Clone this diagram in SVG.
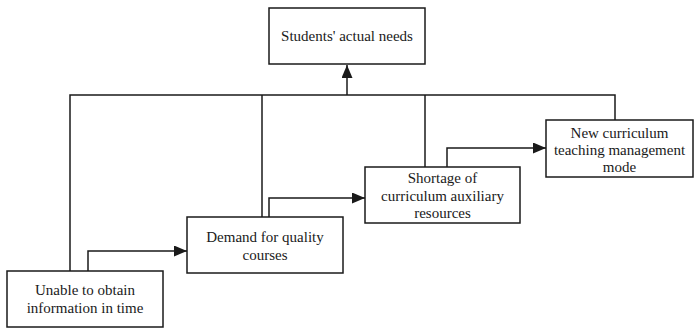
<svg xmlns="http://www.w3.org/2000/svg" width="695" height="328" viewBox="0 0 695 328">
  <style>
    .box { fill: #ffffff; stroke: #1a1a1a; stroke-width: 1.5; }
    .lbl { font-family: 'Liberation Serif', 'Times New Roman', Times, serif; font-size: 15px; fill: #1a1a1a; text-anchor: middle; }
    .wire { fill: none; stroke: #1a1a1a; stroke-width: 1.5; }
  </style>
  <defs>
    <marker id="arrow" viewBox="0 0 13 11" refX="13" refY="5.5" markerWidth="13" markerHeight="11" markerUnits="userSpaceOnUse" orient="auto">
      <path d="M0,0 L13,5.5 L0,11 z" fill="#1a1a1a"/>
    </marker>
  </defs>
  <rect width="695" height="328" fill="#ffffff"/>

  <g id="connectors">
    <!-- bus feeding the top box -->
    <polyline class="wire" points="70,271 70,95 615,95 615,120"/>
    <line class="wire" x1="262" y1="95" x2="262" y2="217"/>
    <line class="wire" x1="425" y1="95" x2="425" y2="167"/>
    <line class="wire" x1="347" y1="95" x2="347" y2="65" marker-end="url(#arrow)"/>
    <!-- chain between the stage boxes -->
    <polyline class="wire" points="88,271 88,251 187,251" marker-end="url(#arrow)"/>
    <polyline class="wire" points="269,217 269,198 365,198" marker-end="url(#arrow)"/>
    <polyline class="wire" points="447,167 447,148 546,148" marker-end="url(#arrow)"/>
  </g>

  <g id="needs">
    <rect class="box" x="269" y="8" width="156" height="56"/>
    <text class="lbl" x="347" y="41">Students' actual needs</text>
  </g>

  <g id="unable">
    <rect class="box" x="7" y="271" width="156" height="56"/>
    <text class="lbl" x="85" y="295">Unable to obtain</text>
    <text class="lbl" x="85" y="313">information in time</text>
  </g>

  <g id="demand">
    <rect class="box" x="187" y="217" width="156" height="56"/>
    <text class="lbl" x="265" y="242">Demand for quality</text>
    <text class="lbl" x="265" y="260">courses</text>
  </g>

  <g id="shortage">
    <rect class="box" x="365" y="167" width="155" height="56"/>
    <text class="lbl" x="442.5" y="183">Shortage of</text>
    <text class="lbl" x="442.5" y="201">curriculum auxiliary</text>
    <text class="lbl" x="442.5" y="218">resources</text>
  </g>

  <g id="newmode">
    <rect class="box" x="546" y="120" width="147" height="57"/>
    <text class="lbl" x="619.5" y="138">New curriculum</text>
    <text class="lbl" x="619.5" y="155">teaching management</text>
    <text class="lbl" x="619.5" y="172">mode</text>
  </g>
</svg>
